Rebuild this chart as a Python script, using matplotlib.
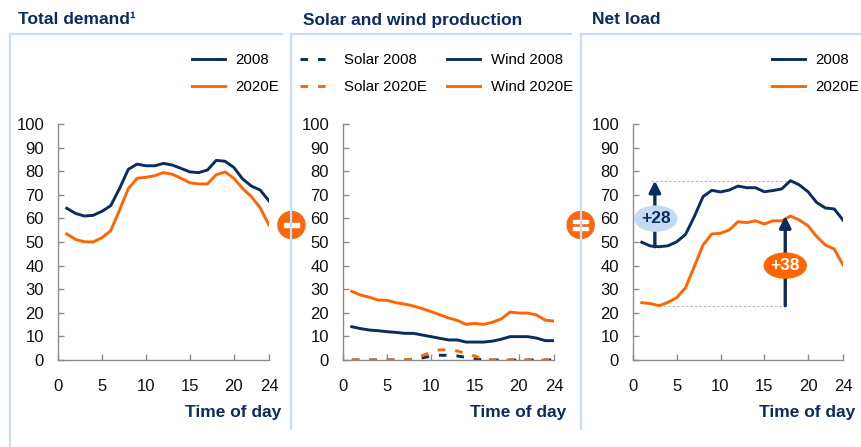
import matplotlib
matplotlib.use('Agg')
import matplotlib.pyplot as plt
from matplotlib import patches
from matplotlib.lines import Line2D

plt.rcParams['font.family'] = ['Liberation Sans', 'DejaVu Sans']

navy = '#0a2c5e'
orange = '#ff6600'
pale = '#c9ddf4'

hours = list(range(1, 25))

demand_2008 = [64.3, 62.1, 61.0, 61.3, 63.0, 65.4, 72.7, 80.8, 83.0, 82.3, 82.3, 83.3,
               82.6, 81.2, 79.7, 79.4, 80.5, 84.6, 84.2, 81.6, 76.7, 73.7, 72.0, 67.4]
demand_2020 = [53.4, 51.1, 50.1, 50.0, 51.8, 54.8, 63.5, 72.6, 77.0, 77.4, 78.1, 79.4,
               78.7, 77.0, 75.1, 74.6, 74.6, 78.5, 79.7, 77.0, 72.7, 69.2, 64.5, 57.2]

solar_2008 = [0, 0, 0, 0, 0, 0, 0, 0.2, 0.9, 1.6, 2.0, 2.0,
              1.7, 1.1, 0.5, 0, 0, 0, 0, 0, 0, 0, 0, 0]
solar_2020 = [0, 0, 0, 0, 0, 0, 0, 0.5, 1.8, 3.3, 4.3, 4.3,
              3.8, 2.8, 1.6, 0.5, 0, 0, 0, 0, 0, 0, 0, 0]
wind_2008 = [14.1, 13.3, 12.7, 12.4, 12.0, 11.7, 11.3, 11.3, 10.6, 9.9, 9.2, 8.5,
             8.5, 7.6, 7.6, 7.6, 8.0, 8.8, 9.9, 9.9, 9.9, 9.3, 8.2, 8.2]
wind_2020 = [29.1, 27.5, 26.6, 25.4, 25.3, 24.3, 23.7, 22.9, 21.8, 20.5, 19.2, 17.8,
             16.8, 15.1, 15.5, 15.1, 16.0, 17.4, 20.3, 19.9, 19.9, 19.1, 16.9, 16.5]

net_2008 = [49.9, 48.3, 48.0, 48.4, 50.1, 53.2, 60.7, 69.2, 71.9, 71.2, 72.0, 73.7,
            73.0, 73.0, 71.3, 71.8, 72.5, 76.0, 74.2, 71.3, 66.7, 64.4, 64.0, 59.3]
net_2020 = [24.3, 23.9, 23.0, 24.4, 26.4, 30.6, 39.5, 48.7, 53.4, 53.7, 55.1, 58.6,
            58.2, 59.0, 57.6, 59.0, 58.9, 61.0, 59.3, 56.9, 52.3, 48.7, 47.0, 40.3]

titles = ['Total demand\u00b9', 'Solar and wind production', 'Net load']
xticks = [0, 5, 10, 15, 20, 24]
yticks = list(range(0, 101, 10))

W, H = 861, 447
fig = plt.figure(figsize=(W / 100, H / 100), dpi=100)


def fx(px):
    return px / W


def fy(py):
    return 1 - py / H


def make_axes(left, right):
    ax = fig.add_axes([fx(left), fy(360), fx(right - left), 236 / H])
    ax.set_xlim(0, 24)
    ax.set_ylim(0, 100)
    ax.set_xticks(xticks)
    ax.set_yticks(yticks)
    for s in ['top', 'right']:
        ax.spines[s].set_visible(False)
    for s in ['left', 'bottom']:
        ax.spines[s].set_color('#8c8c8c')
        ax.spines[s].set_linewidth(1)
    ax.tick_params(direction='in', length=4, width=1, color='#8c8c8c',
                   labelsize=12, labelcolor='#111111')
    ax.tick_params(axis='x', pad=14)
    ax.tick_params(axis='y', pad=10)
    ax.patch.set_alpha(0)
    ax.annotate('Time of day', xy=(1, 0), xycoords='axes fraction',
                xytext=(12, -52), textcoords='offset pixels',
                ha='right', va='center', fontsize=12.5, fontweight='bold', color=navy)
    return ax


# panel frames
frame_kw = dict(color=pale, lw=1.6, transform=fig.transFigure)
fig.add_artist(Line2D([fx(10), fx(10)], [fy(34), fy(447)], **frame_kw))
fig.add_artist(Line2D([fx(10), fx(282)], [fy(34), fy(34)], **frame_kw))
fig.add_artist(Line2D([fx(291), fx(291)], [fy(34), fy(429)], **frame_kw))
fig.add_artist(Line2D([fx(291), fx(571)], [fy(34), fy(34)], **frame_kw))
fig.add_artist(Line2D([fx(581), fx(581)], [fy(34), fy(429)], **frame_kw))
fig.add_artist(Line2D([fx(581), fx(861)], [fy(34), fy(34)], **frame_kw))

for x0, t in zip([18, 303, 592], titles):
    fig.text(fx(x0), fy(20), t, fontsize=12.5, fontweight='bold', color=navy,
             ha='left', va='center')

leg_kw = dict(loc='upper left', frameon=False, fontsize=10.8, borderpad=0,
              borderaxespad=0, handlelength=2.2, handletextpad=0.7,
              labelspacing=0.88, bbox_transform=fig.transFigure)

# total demand
ax1 = make_axes(58, 269)
ax1.plot(hours, demand_2008, color=navy, lw=2.1, label='2008')
ax1.plot(hours, demand_2020, color=orange, lw=2.1, label='2020E')
ax1.legend(bbox_to_anchor=(fx(192), fy(53)), **leg_kw)

# solar and wind
ax2 = make_axes(343, 554)
dash = (0, (2.6, 3.4))
s1, = ax2.plot(hours, solar_2008, color=navy, lw=2.1, ls=dash, label='Solar 2008')
s2, = ax2.plot(hours, solar_2020, color=orange, lw=2.1, ls=dash, label='Solar 2020E')
w1, = ax2.plot(hours, wind_2008, color=navy, lw=2.1, label='Wind 2008')
w2, = ax2.plot(hours, wind_2020, color=orange, lw=2.1, label='Wind 2020E')
ax2.legend(handles=[s1, s2, w1, w2], ncol=2, columnspacing=1.4,
           bbox_to_anchor=(fx(300), fy(53)), **leg_kw)

# net load
ax3 = make_axes(633, 843)
ax3.plot(hours, net_2008, color=navy, lw=2.1, label='2008', zorder=3)
ax3.plot(hours, net_2020, color=orange, lw=2.1, label='2020E', zorder=3)
ax3.legend(bbox_to_anchor=(fx(772), fy(53)), **leg_kw)

lo08, hi08 = min(net_2008), max(net_2008)
lo20, hi20 = min(net_2020), max(net_2020)
x_hi08 = hours[net_2008.index(hi08)]
x_lo20 = hours[net_2020.index(lo20)]

arrow1_x = 2.5
arrow2_x = 17.4
guide = dict(color='#b5b5b5', lw=0.8, ls=(0, (2, 2)), zorder=1)
ax3.plot([2.1, x_hi08 - 0.3], [hi08, hi08], **guide)
ax3.plot([x_lo20, arrow2_x + 0.3], [lo20, lo20], **guide)

arrow_kw = dict(arrowstyle='-|>', lw=2.4, color=navy, mutation_scale=17,
                shrinkA=0, shrinkB=0)
ax3.annotate('', xy=(arrow1_x, hi08), xytext=(arrow1_x, lo08),
             arrowprops=arrow_kw, zorder=4)
ax3.annotate('', xy=(arrow2_x, hi20), xytext=(arrow2_x, lo20),
             arrowprops=arrow_kw, zorder=4)

ax3.add_patch(patches.Ellipse((arrow1_x + 0.1, 59.9), 4.8, 10.6, color='#c6dbf3',
                              zorder=5, clip_on=False))
ax3.text(arrow1_x + 0.1, 59.9, '+%d' % round(hi08 - lo08), ha='center', va='center',
         fontsize=12.5, fontweight='bold', color=navy, zorder=6)
ax3.add_patch(patches.Ellipse((arrow2_x, 40), 4.8, 10.6, color=orange, zorder=5))
ax3.text(arrow2_x, 40, '+%d' % round(hi20 - lo20), ha='center', va='center',
         fontsize=12.5, fontweight='bold', color='white', zorder=6)

# minus and equals signs between panels
for cx, bars in [(291.5, [(225, 4)]), (580.7, [(221.5, 3), (228.5, 3)])]:
    fig.add_artist(patches.Ellipse((fx(cx), fy(225)), 27 / W, 27 / H,
                                   color='#f7680f', transform=fig.transFigure))
    for by, bh in bars:
        fig.add_artist(patches.Rectangle((fx(cx - 7.5), fy(by + bh / 2)), 15 / W, bh / H,
                                         color='white', transform=fig.transFigure))

fig.savefig('out.png', dpi=100)
